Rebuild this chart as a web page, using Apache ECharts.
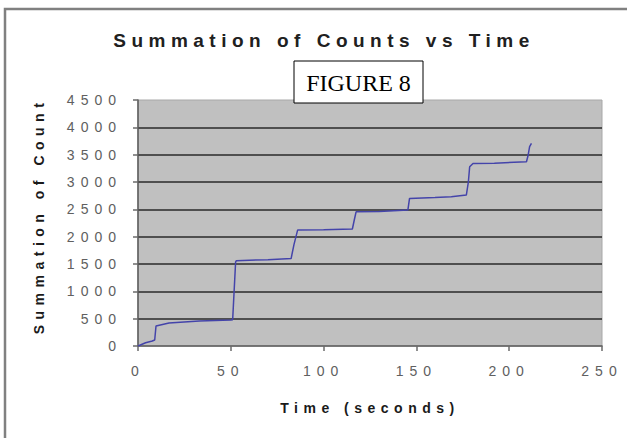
<!DOCTYPE html>
<html>
<head>
<meta charset="utf-8">
<script src="https://cdn.jsdelivr.net/npm/echarts@6/dist/echarts.min.js"></script>
<style>
  html, body { margin: 0; padding: 0; background: #ffffff; }
  #chart { width: 627px; height: 438px; }
</style>
</head>
<body>
<div id="chart"></div>
<script>
// ---- data ----
const chartTitle = 'Summation of Counts vs Time';
const xAxisName = 'Time (seconds)';
const yAxisName = 'Summation of Count';
const figureLabel = 'FIGURE 8';

const xTickValues = [0, 50, 100, 150, 200, 250];
const yTickValues = [0, 500, 1000, 1500, 2000, 2500, 3000, 3500, 4000, 4500];

const timeSeconds = [0, 4.1, 7.7, 9, 9.7, 16.7, 33, 50, 51, 52.6, 53, 70, 82.5, 84, 86, 100, 115.5, 116.5, 117.5, 130, 145.4, 146.3, 160, 168.8, 176.9, 178, 178.7, 180.5, 192, 209.3, 210.2, 211, 212];
const cumulativeCounts = [0, 60, 91, 110, 366, 420, 457, 475, 480, 1540, 1560, 1580, 1600, 1850, 2120, 2125, 2140, 2300, 2455, 2460, 2486, 2700, 2715, 2730, 2760, 3000, 3278, 3340, 3345, 3370, 3490, 3645, 3705];

const seriesData = timeSeconds.map((t, i) => [t, cumulativeCounts[i]]);

const dom = document.getElementById('chart');
const chart = echarts.init(dom, null, { renderer: 'svg' });

const sansFont = '"Liberation Sans", Arial, sans-serif';

const option = {
  animation: false,
  backgroundColor: '#ffffff',
  title: {
    text: chartTitle,
    left: 319,
    top: 35,
    textAlign: 'center',
    textVerticalAlign: 'middle',
    textStyle: { fontFamily: sansFont, fontSize: 19, fontWeight: 'bold', color: '#202020' }
  },
  grid: {
    left: 138, right: 25, top: 100, bottom: 92,
    show: true, backgroundColor: '#c0c0c0', borderColor: '#a8a8a8', borderWidth: 1,
    containLabel: false, outerBoundsMode: 'none'
  },
  xAxis: {
    type: 'value',
    min: xTickValues[0], max: xTickValues[xTickValues.length - 1],
    interval: xTickValues[1] - xTickValues[0],
    name: xAxisName, nameLocation: 'middle', nameGap: 55, nameMoveOverlap: false,
    nameTextStyle: { fontFamily: sansFont, fontSize: 14, fontWeight: 'bold', color: '#1a1a1a' },
    axisLine: { show: true, onZero: false, lineStyle: { color: '#5a5a5a', width: 1.5 } },
    axisTick: { show: true, inside: false, length: 5, lineStyle: { color: '#6a6a6a', width: 1.5 } },
    axisLabel: { margin: 18, fontFamily: sansFont, fontSize: 14, color: '#606060', formatter: v => String(v) },
    splitLine: { show: false }
  },
  yAxis: {
    type: 'value',
    min: yTickValues[0], max: yTickValues[yTickValues.length - 1],
    interval: yTickValues[1] - yTickValues[0],
    name: yAxisName, nameLocation: 'middle', nameGap: 92, nameRotate: 90, nameMoveOverlap: false,
    nameTextStyle: { fontFamily: sansFont, fontSize: 14, fontWeight: 'bold', color: '#1a1a1a', padding: [0, 0, 0, 14] },
    axisLine: { show: true, lineStyle: { color: '#5a5a5a', width: 1.5 } },
    axisTick: { show: true, inside: false, length: 5, lineStyle: { color: '#6a6a6a', width: 1.5 } },
    axisLabel: { margin: 16, fontFamily: sansFont, fontSize: 14, color: '#606060', formatter: v => String(v) },
    splitLine: { show: true, showMinLine: false, showMaxLine: false, lineStyle: { color: '#2a2a2a', width: 1.6 } }
  },
  series: [{
    type: 'line',
    data: seriesData,
    showSymbol: false,
    smooth: false,
    lineStyle: { color: '#4444aa', width: 1.5 },
    z: 5
  }],
  graphic: [
    {
      type: 'rect', z: -10, silent: true,
      shape: { x: 5, y: 9, width: 900, height: 900 },
      style: { fill: 'none', stroke: '#808080', lineWidth: 2.5 }
    },
    {
      type: 'group', z: 100,
      children: [
        { type: 'rect', shape: { x: 294, y: 61, width: 129, height: 42 }, style: { fill: '#ffffff', stroke: '#000000', lineWidth: 1 } },
        { type: 'text', x: 358.5, y: 82.5, style: { text: figureLabel, align: 'center', verticalAlign: 'middle', font: '24px "Liberation Serif", "Times New Roman", serif', fill: '#000000' } }
      ]
    }
  ]
};

chart.setOption(option);

function applySpacing() {
  dom.querySelectorAll('text').forEach(el => {
    const s = el.textContent;
    let ls = 5.5;
    if (s === chartTitle) ls = 5.5;
    else if (s === figureLabel) ls = 0;
    else if (/^\d+$/.test(s)) ls = 6;
    el.style.letterSpacing = ls + 'px';
  });
}
applySpacing();
chart.on('finished', applySpacing);
</script>
</body>
</html>
